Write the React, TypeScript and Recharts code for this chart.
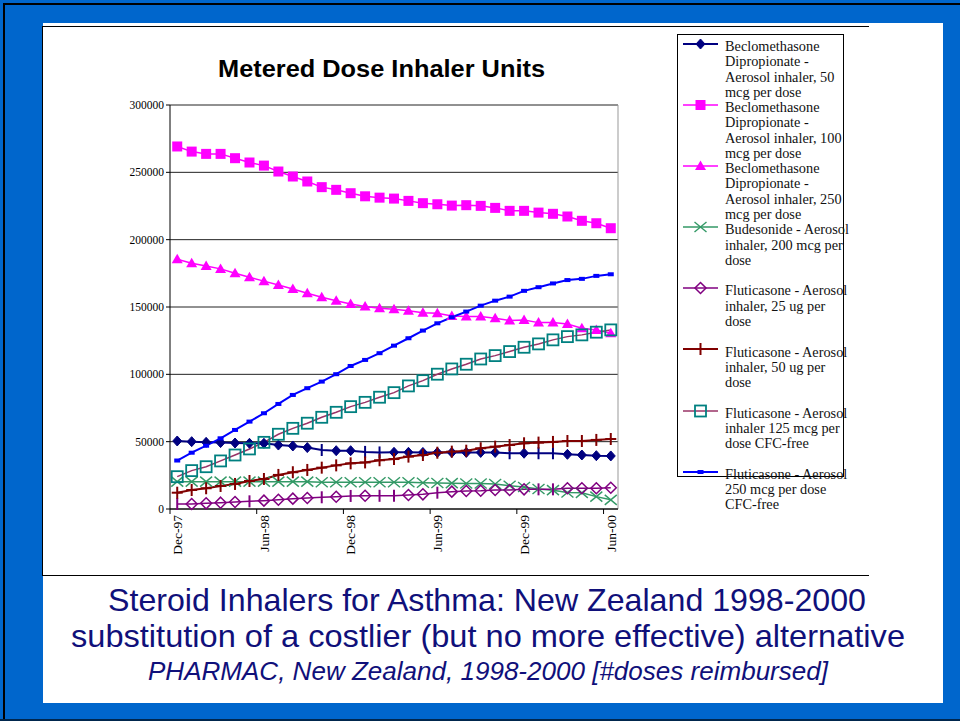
import React from "react";
import { CartesianGrid, Line, LineChart, XAxis, YAxis } from "recharts";

const months = [
  "Dec-97",
  "Jan-98", "Feb-98", "Mar-98", "Apr-98", "May-98", "Jun-98",
  "Jul-98", "Aug-98", "Sep-98", "Oct-98", "Nov-98", "Dec-98",
  "Jan-99", "Feb-99", "Mar-99", "Apr-99", "May-99", "Jun-99",
  "Jul-99", "Aug-99", "Sep-99", "Oct-99", "Nov-99", "Dec-99",
  "Jan-00", "Feb-00", "Mar-00", "Apr-00", "May-00", "Jun-00",
];

const beclo50 = [
  50500, 50000, 49500, 49300, 49000, 48800, 48800, 47500, 46800, 45600, 43800,
  43300, 43300, 42400, 42000, 42100, 42100, 42000, 42000, 42000, 42000, 42000,
  42000, 41400, 41400, 41400, 41400, 40600, 40100, 39600, 39400,
];
const beclo100 = [
  269200, 265400, 263700, 263700, 260500, 257300, 255000, 250600, 246900,
  243200, 239000, 237000, 234500, 232200, 231200, 230500, 228800, 227100,
  226300, 225300, 225600, 225100, 223600, 221400, 221400, 220100, 219200,
  217200, 214000, 212200, 208500,
];
const beclo250 = [
  185500, 182500, 180500, 178300, 175100, 172100, 169200, 166400, 163300,
  160200, 157300, 154700, 152300, 150300, 149100, 148300, 147300, 145800,
  145400, 143400, 142900, 142900, 141700, 139900, 140400, 138400, 138400,
  137400, 134200, 133000, 130500,
];
const budesonide200 = [
  20300, 20300, 20300, 20300, 20300, 20300, 20300, 20300, 20300, 20300, 19800,
  19800, 19800, 19800, 19800, 19800, 19800, 19500, 19300, 19200, 19000, 19000,
  18500, 17300, 16300, 14800, 14000, 12300, 12000, 9200, 6800,
];
const fluti25 = [
  3700, 3700, 4200, 4700, 5200, 5700, 6200, 6900, 7700, 8200, 8700, 9100, 9700,
  9800, 9800, 9900, 10400, 10900, 12100, 12900, 13400, 13600, 14100, 14100,
  14600, 14600, 14600, 15400, 15400, 15400, 15800,
];
const fluti50 = [
  12100, 14100, 15400, 17100, 18600, 20800, 22300, 25300, 27300, 29000, 30700,
  32400, 33900, 34600, 36200, 37100, 38900, 40100, 41800, 42600, 43300, 45100,
  46300, 47500, 48800, 49300, 49800, 50500, 50500, 51300, 52000,
];
const fluti125 = [
  24000, 28500, 31400, 35700, 40100, 44600, 49500, 55500, 59900, 63700, 68100,
  71800, 76000, 79200, 83000, 86400, 91400, 95300, 100100, 104000, 107500,
  111400, 113900, 116900, 120100, 122600, 125600, 128000, 129300, 131300,
  133000,
];
const fluti250 = [
  36000, 41800, 47000, 52500, 58700, 64900, 71100, 78000, 84700, 89700, 94600,
  100100, 106200, 110700, 115700, 121300, 126800, 132500, 137900, 142400,
  146600, 151000, 154700, 157700, 162000, 164700, 167500, 170000, 170900,
  173100, 174300,
];

const yTicks = [0, 50000, 100000, 150000, 200000, 250000, 300000];

// the original export drew a few diamonds as plain bars
const navyBarIdx = [10, 13, 14, 23, 25, 26];
const purpleBarIdx = [0, 5, 10, 12, 14, 15, 18, 25, 26];

type Shape =
  | "diamond"
  | "square"
  | "triangle"
  | "cross"
  | "openDiamond"
  | "plus"
  | "openSquare"
  | "dash";

const series = [
  { key: "b50", values: beclo50, line: "#000080", mark: "#000080", shape: "diamond" as Shape, width: 2, bars: navyBarIdx,
    legend: ["Beclomethasone", "Dipropionate -", "Aerosol inhaler, 50", "mcg per dose"] },
  { key: "b100", values: beclo100, line: "#ff00ff", mark: "#ff00ff", shape: "square" as Shape, width: 1.5, bars: [],
    legend: ["Beclomethasone", "Dipropionate -", "Aerosol inhaler, 100", "mcg per dose"] },
  { key: "b250", values: beclo250, line: "#ff00ff", mark: "#ff00ff", shape: "triangle" as Shape, width: 1.5, bars: [],
    legend: ["Beclomethasone", "Dipropionate -", "Aerosol inhaler, 250", "mcg per dose"] },
  { key: "bud", values: budesonide200, line: "#339966", mark: "#339966", shape: "cross" as Shape, width: 1.5, bars: [],
    legend: ["Budesonide - Aerosol", "inhaler, 200 mcg per", "dose"] },
  { key: "f25", values: fluti25, line: "#800080", mark: "#800080", shape: "openDiamond" as Shape, width: 1.5, bars: purpleBarIdx,
    legend: ["Fluticasone - Aerosol", "inhaler, 25 ug per", "dose"] },
  { key: "f50", values: fluti50, line: "#800000", mark: "#800000", shape: "plus" as Shape, width: 2, bars: [],
    legend: ["Fluticasone - Aerosol", "inhaler, 50 ug per", "dose"] },
  { key: "f125", values: fluti125, line: "#993366", mark: "#008080", shape: "openSquare" as Shape, width: 1.5, bars: [],
    legend: ["Fluticasone - Aerosol", "inhaler 125 mcg per", "dose CFC-free"] },
  { key: "f250", values: fluti250, line: "#0000ff", mark: "#0000ff", shape: "dash" as Shape, width: 2, bars: [],
    legend: ["Fluticasone - Aerosol", "250 mcg per dose", "CFC-free"] },
];

const data = months.map((month, i) => {
  const row: Record<string, string | number> = { month };
  series.forEach((s) => (row[s.key] = s.values[i]));
  return row;
});

const SERIF = "'Liberation Serif', 'Times New Roman', serif";
const SANS = "'Liberation Sans', Arial, sans-serif";
const HALF_STEP = 448 / 31 / 2;

function marker(shape: Shape, x: number, y: number, c: string) {
  switch (shape) {
    case "diamond":
      return <polygon points={`${x},${y - 5} ${x + 4.5},${y} ${x},${y + 5} ${x - 4.5},${y}`} fill={c} stroke={c} />;
    case "square":
      return <rect x={x - 5} y={y - 5} width={10} height={10} fill={c} />;
    case "triangle":
      return <polygon points={`${x},${y - 5.5} ${x + 5.5},${y + 4} ${x - 5.5},${y + 4}`} fill={c} />;
    case "cross":
      return (
        <g stroke={c} strokeWidth={1.4}>
          <line x1={x - 6} y1={y - 5} x2={x + 6} y2={y + 5} />
          <line x1={x - 6} y1={y + 5} x2={x + 6} y2={y - 5} />
        </g>
      );
    case "openDiamond":
      return <polygon points={`${x},${y - 5.5} ${x + 5.5},${y} ${x},${y + 5.5} ${x - 5.5},${y}`} fill="none" stroke={c} strokeWidth={1.5} />;
    case "plus":
      return (
        <g stroke={c} strokeWidth={2}>
          <line x1={x - 5.5} y1={y} x2={x + 5.5} y2={y} />
          <line x1={x} y1={y - 6} x2={x} y2={y + 6} />
        </g>
      );
    case "openSquare":
      return <rect x={x - 5.5} y={y - 5.5} width={11} height={11} fill="none" stroke={c} strokeWidth={1.8} />;
    case "dash":
      return <rect x={x - 3} y={y - 2} width={6} height={4} fill={c} />;
  }
}

function MonthTick(props: any) {
  const { x, y, payload } = props;
  return (
    <g>
      <line x1={x - HALF_STEP} y1={y} x2={x - HALF_STEP} y2={y + 5} stroke="#000" />
      <text
        transform={`translate(${x + 4.8},${y + 6}) rotate(-90)`}
        textAnchor="end"
        fontSize={13.5}
        fontFamily={SERIF}
        fill="#000"
      >
        {payload.value}
      </text>
    </g>
  );
}

function ChartLegend() {
  return (
    <div
      style={{
        position: "absolute",
        left: 677,
        top: 34,
        width: 167,
        height: 443,
        boxSizing: "border-box",
        border: "1px solid #000",
        fontFamily: SERIF,
        fontSize: 14.3,
        lineHeight: "15.25px",
        color: "#111",
      }}
    >
      {series.map((s, k) => (
        <div key={s.key} style={{ position: "absolute", left: 0, top: 4 + k * 61.1 }}>
          <svg width={36} height={14} style={{ position: "absolute", left: 5, top: -2.1 }}>
            <line x1={0} y1={7} x2={35} y2={7} stroke={s.line} strokeWidth={s.width} />
            {marker(s.shape, 17.5, 7, s.mark)}
          </svg>
          <div style={{ position: "absolute", left: 47, top: 0, whiteSpace: "nowrap" }}>
            {s.legend.map((t, i) => (
              <div key={i}>{t}</div>
            ))}
          </div>
        </div>
      ))}
    </div>
  );
}

export default function App() {
  return (
    <div
      style={{
        position: "absolute",
        left: 0,
        top: 0,
        width: 960,
        height: 721,
        overflow: "hidden",
        background: "#0066cc",
      }}
    >
      <div style={{ position: "absolute", left: 3, top: 3, width: 957, height: 2, background: "#000" }} />
      <div style={{ position: "absolute", left: 3, top: 3, width: 2, height: 718, background: "#000" }} />
      <div style={{ position: "absolute", left: 0, top: 719, width: 960, height: 2, background: "#00264d" }} />
      <div style={{ position: "absolute", left: 43, top: 23, width: 900, height: 680, background: "#fff" }} />
      <div
        style={{
          position: "absolute",
          left: 42,
          top: 26,
          width: 826,
          height: 548,
          borderTop: "1.5px solid #000",
          borderLeft: "1.5px solid #000",
          borderBottom: "1.5px solid #000",
        }}
      />

      <div style={{ position: "absolute", left: 0, top: 0 }}>
        <LineChart
          width={960}
          height={721}
          data={data}
          margin={{ top: 105, right: 342, bottom: 162, left: 110 }}
        >
          <CartesianGrid vertical={false} stroke="#222" />
          <CartesianGrid
            horizontal={false}
            stroke="#999"
            verticalCoordinatesGenerator={({ offset }: any) => [offset.left + offset.width]}
          />
          <XAxis
            dataKey="month"
            interval={5}
            padding={{ left: HALF_STEP, right: HALF_STEP }}
            height={50}
            tickSize={0}
            tickMargin={0}
            tickLine={false}
            axisLine={{ stroke: "#000" }}
            tick={<MonthTick />}
          />
          <YAxis
            width={60}
            domain={[0, 300000]}
            ticks={yTicks}
            tickSize={4}
            tickMargin={2}
            axisLine={{ stroke: "#000" }}
            tickLine={{ stroke: "#000" }}
            tick={{ fontSize: 11.5, fill: "#000", fontFamily: SERIF }}
          />
          {series.map((s) => (
            <Line
              key={s.key}
              dataKey={s.key}
              type="linear"
              stroke={s.line}
              strokeWidth={s.width}
              isAnimationActive={false}
              activeDot={false}
              dot={(p: any) => (
                <g key={`${s.key}-${p.index}`}>
                  {s.bars.includes(p.index) ? (
                    <line x1={p.cx} y1={p.cy - 6} x2={p.cx} y2={p.cy + 6} stroke={s.mark} strokeWidth={2} />
                  ) : (
                    marker(s.shape, p.cx, p.cy, s.mark)
                  )}
                </g>
              )}
            />
          ))}
        </LineChart>
      </div>

      <ChartLegend />

      <svg
        width={960}
        height={721}
        style={{ position: "absolute", left: 0, top: 0, pointerEvents: "none" }}
      >
        <text x={381.5} y={77} textAnchor="middle" fontFamily={SANS} fontWeight="bold" fontSize={23} fill="#000" textLength={327} lengthAdjust="spacingAndGlyphs">
          Metered Dose Inhaler Units
        </text>
        <text x={108} y={611} fontFamily={SANS} fontSize={32} fill="#10107a" textLength={758} lengthAdjust="spacingAndGlyphs">
          Steroid Inhalers for Asthma: New Zealand 1998-2000
        </text>
        <text x={71} y={647} fontFamily={SANS} fontSize={32} fill="#10107a" textLength={834} lengthAdjust="spacingAndGlyphs">
          substitution of a costlier (but no more effective) alternative
        </text>
        <text x={148} y={680} fontFamily={SANS} fontStyle="italic" fontSize={25} fill="#10107a" textLength={680} lengthAdjust="spacingAndGlyphs">
          PHARMAC, New Zealand, 1998-2000 [#doses reimbursed]
        </text>
      </svg>
    </div>
  );
}
